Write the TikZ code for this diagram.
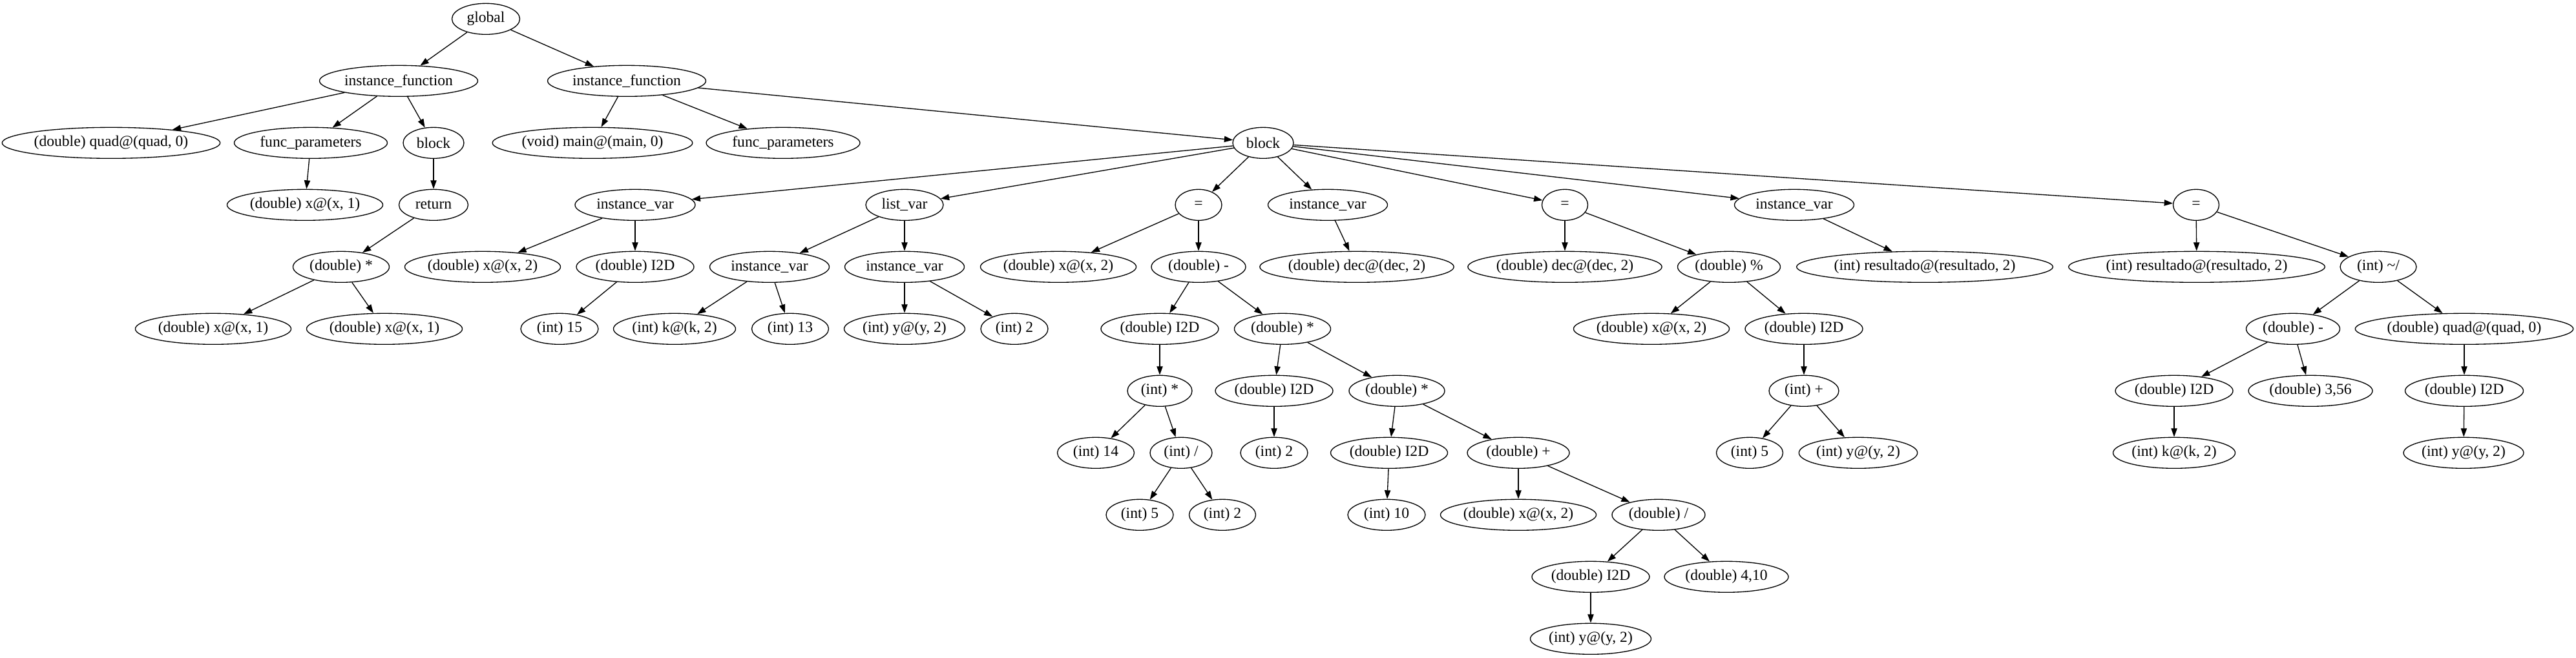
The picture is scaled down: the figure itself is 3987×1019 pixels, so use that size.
\documentclass[tikz,border=0pt]{standalone}
\usepackage{fontspec}
\setmainfont{Liberation Serif}
\usepackage{tikz}
\usetikzlibrary{shapes.geometric, arrows.meta}
\tikzset{ast/.style={ellipse, draw, line width=1pt, inner sep=0pt, minimum height=36pt,
    font=\fontsize{17.7pt}{20pt}\selectfont},
  wd/.style={minimum width=#1*0.75pt}}

\begin{document}
\begin{tikzpicture}[x=0.75pt, y=-0.75pt, >={Triangle[length=10pt,width=7pt]}, line width=1pt]
  \useasboundingbox (0,0) rectangle (3987,1019);
  % row 0 and 1
  \node[ast, wd=105] (global) at (752,29.3) {global};
  \node[ast, wd=245] (if-1) at (617,125.3) {instance\_function};
  \node[ast, wd=245] (if-2) at (970,125.3) {instance\_function};
  % row 2
  \node[ast, wd=334] (quad-1) at (172,221.3) {(double) quad@(quad, 0)};
  \node[ast, wd=237] (fp-1) at (481,221.3) {func\_parameters};
  \node[ast, wd=94] (block-1) at (671,221.3) {block};
  \node[ast, wd=303] (main) at (917,221.3) {(void) main@(main, 0)};
  \node[ast, wd=238] (fp-2) at (1212,221.3) {func\_parameters};
  \node[ast, wd=94] (block-2) at (1955,221.3) {block};
  % row 3
  \node[ast, wd=240] (x1-a) at (472,317.3) {(double) x@(x, 1)};
  \node[ast, wd=107] (ret) at (671,317.3) {return};
  \node[ast, wd=186] (iv-x) at (983,317.3) {instance\_var};
  \node[ast, wd=120] (lv) at (1400,317.3) {list\_var};
  \node[ast, wd=72] (eq-1) at (1855,317.3) {=};
  \node[ast, wd=185] (iv-dec) at (2055,317.3) {instance\_var};
  \node[ast, wd=71] (eq-2) at (2422,317.3) {=};
  \node[ast, wd=185] (iv-res) at (2777,317.3) {instance\_var};
  \node[ast, wd=71] (eq-3) at (3399,317.3) {=};
  % row 4
  \node[ast, wd=149] (dmul-1) at (528,413.3) {(double) *};
  \node[ast, wd=240] (x2-a) at (747,413.3) {(double) x@(x, 2)};
  \node[ast, wd=182] (i2d-1) at (983,413.3) {(double) I2D};
  \node[ast, wd=185] (iv-k) at (1191,413.3) {instance\_var};
  \node[ast, wd=185] (iv-y) at (1400,413.3) {instance\_var};
  \node[ast, wd=240] (x2-b) at (1638,413.3) {(double) x@(x, 2)};
  \node[ast, wd=146] (dsub-1) at (1855,413.3) {(double) -};
  \node[ast, wd=296] (dec-1) at (2100,413.3) {(double) dec@(dec, 2)};
  \node[ast, wd=296] (dec-2) at (2422,413.3) {(double) dec@(dec, 2)};
  \node[ast, wd=159] (dmod) at (2676,413.3) {(double) \%};
  \node[ast, wd=396] (res-1) at (2979,413.3) {(int) resultado@(resultado, 2)};
  \node[ast, wd=396] (res-2) at (3400,413.3) {(int) resultado@(resultado, 2)};
  \node[ast, wd=118] (idiv-1) at (3681,413.3) {(int) \textasciitilde/};
  % row 5
  \node[ast, wd=240] (x1-b) at (330,509.3) {(double) x@(x, 1)};
  \node[ast, wd=240] (x1-c) at (595,509.3) {(double) x@(x, 1)};
  \node[ast, wd=120] (int-15) at (866,509.3) {(int) 15};
  \node[ast, wd=189] (k-1) at (1044,509.3) {(int) k@(k, 2)};
  \node[ast, wd=119] (int-13) at (1223,509.3) {(int) 13};
  \node[ast, wd=187] (y-1) at (1400,509.3) {(int) y@(y, 2)};
  \node[ast, wd=104] (int-2a) at (1570,509.3) {(int) 2};
  \node[ast, wd=182] (i2d-2) at (1795,509.3) {(double) I2D};
  \node[ast, wd=149] (dmul-2) at (1985,509.3) {(double) *};
  \node[ast, wd=239] (x2-c) at (2556,509.3) {(double) x@(x, 2)};
  \node[ast, wd=182] (i2d-3) at (2792,509.3) {(double) I2D};
  \node[ast, wd=145] (dsub-2) at (3549,509.3) {(double) -};
  \node[ast, wd=333] (quad-2) at (3814,509.3) {(double) quad@(quad, 0)};
  % row 6
  \node[ast, wd=100] (imul) at (1795,605.3) {(int) *};
  \node[ast, wd=182] (i2d-4) at (1972,605.3) {(double) I2D};
  \node[ast, wd=148] (dmul-3) at (2162,605.3) {(double) *};
  \node[ast, wd=108] (iadd) at (2792,605.3) {(int) +};
  \node[ast, wd=182] (i2d-5) at (3365,605.3) {(double) I2D};
  \node[ast, wd=192] (d-356) at (3576,605.3) {(double) 3,56};
  \node[ast, wd=183] (i2d-6) at (3814,605.3) {(double) I2D};
  % row 7
  \node[ast, wd=119] (int-14) at (1696,701.3) {(int) 14};
  \node[ast, wd=96] (idiv-2) at (1828,701.3) {(int) /};
  \node[ast, wd=104] (int-2b) at (1972,701.3) {(int) 2};
  \node[ast, wd=181] (i2d-7) at (2150,701.3) {(double) I2D};
  \node[ast, wd=158] (dadd) at (2350,701.3) {(double) +};
  \node[ast, wd=103] (int-5a) at (2708,701.3) {(int) 5};
  \node[ast, wd=183] (y-2) at (2876,701.3) {(int) y@(y, 2)};
  \node[ast, wd=189] (k-2) at (3365,701.3) {(int) k@(k, 2)};
  \node[ast, wd=186] (y-3) at (3813,701.3) {(int) y@(y, 2)};
  % row 8
  \node[ast, wd=104] (int-5b) at (1764,797.3) {(int) 5};
  \node[ast, wd=103] (int-2c) at (1892,797.3) {(int) 2};
  \node[ast, wd=120] (int-10) at (2146,797.3) {(int) 10};
  \node[ast, wd=239] (x2-d) at (2350,797.3) {(double) x@(x, 2)};
  \node[ast, wd=144] (ddiv) at (2567,797.3) {(double) /};
  % row 9 and 10
  \node[ast, wd=182] (i2d-8) at (2462,893.3) {(double) I2D};
  \node[ast, wd=192] (d-410) at (2672,893.3) {(double) 4,10};
  \node[ast, wd=187] (y-4) at (2462,989.3) {(int) y@(y, 2)};

  \draw[->] (global) -- (if-1);
  \draw[->] (global) -- (if-2);

  \draw[->] (if-1) -- (quad-1);
  \draw[->] (if-1) -- (fp-1);
  \draw[->] (if-1) -- (block-1);
  \draw[->] (fp-1) -- (x1-a);
  \draw[->] (block-1) -- (ret);
  \draw[->] (ret) -- (dmul-1);
  \draw[->] (dmul-1) -- (x1-b);
  \draw[->] (dmul-1) -- (x1-c);

  \draw[->] (if-2) -- (main);
  \draw[->] (if-2) -- (fp-2);
  \draw[->] (if-2) -- (block-2);

  \draw[->] (block-2) -- (iv-x);
  \draw[->] (block-2) -- (lv);
  \draw[->] (block-2) -- (eq-1);
  \draw[->] (block-2) -- (iv-dec);
  \draw[->] (block-2) -- (eq-2);
  \draw[->] (block-2) -- (iv-res);
  \draw[->] (block-2) -- (eq-3);

  \draw[->] (iv-x) -- (x2-a);
  \draw[->] (iv-x) -- (i2d-1);
  \draw[->] (i2d-1) -- (int-15);

  \draw[->] (lv) -- (iv-k);
  \draw[->] (lv) -- (iv-y);
  \draw[->] (iv-k) -- (k-1);
  \draw[->] (iv-k) -- (int-13);
  \draw[->] (iv-y) -- (y-1);
  \draw[->] (iv-y) -- (int-2a);

  \draw[->] (eq-1) -- (x2-b);
  \draw[->] (eq-1) -- (dsub-1);
  \draw[->] (dsub-1) -- (i2d-2);
  \draw[->] (dsub-1) -- (dmul-2);
  \draw[->] (i2d-2) -- (imul);
  \draw[->] (imul) -- (int-14);
  \draw[->] (imul) -- (idiv-2);
  \draw[->] (idiv-2) -- (int-5b);
  \draw[->] (idiv-2) -- (int-2c);
  \draw[->] (dmul-2) -- (i2d-4);
  \draw[->] (dmul-2) -- (dmul-3);
  \draw[->] (i2d-4) -- (int-2b);
  \draw[->] (dmul-3) -- (i2d-7);
  \draw[->] (dmul-3) -- (dadd);
  \draw[->] (i2d-7) -- (int-10);
  \draw[->] (dadd) -- (x2-d);
  \draw[->] (dadd) -- (ddiv);
  \draw[->] (ddiv) -- (i2d-8);
  \draw[->] (ddiv) -- (d-410);
  \draw[->] (i2d-8) -- (y-4);

  \draw[->] (iv-dec) -- (dec-1);

  \draw[->] (eq-2) -- (dec-2);
  \draw[->] (eq-2) -- (dmod);
  \draw[->] (dmod) -- (x2-c);
  \draw[->] (dmod) -- (i2d-3);
  \draw[->] (i2d-3) -- (iadd);
  \draw[->] (iadd) -- (int-5a);
  \draw[->] (iadd) -- (y-2);

  \draw[->] (iv-res) -- (res-1);

  \draw[->] (eq-3) -- (res-2);
  \draw[->] (eq-3) -- (idiv-1);
  \draw[->] (idiv-1) -- (dsub-2);
  \draw[->] (idiv-1) -- (quad-2);
  \draw[->] (dsub-2) -- (i2d-5);
  \draw[->] (dsub-2) -- (d-356);
  \draw[->] (i2d-5) -- (k-2);
  \draw[->] (quad-2) -- (i2d-6);
  \draw[->] (i2d-6) -- (y-3);
\end{tikzpicture}
\end{document}
